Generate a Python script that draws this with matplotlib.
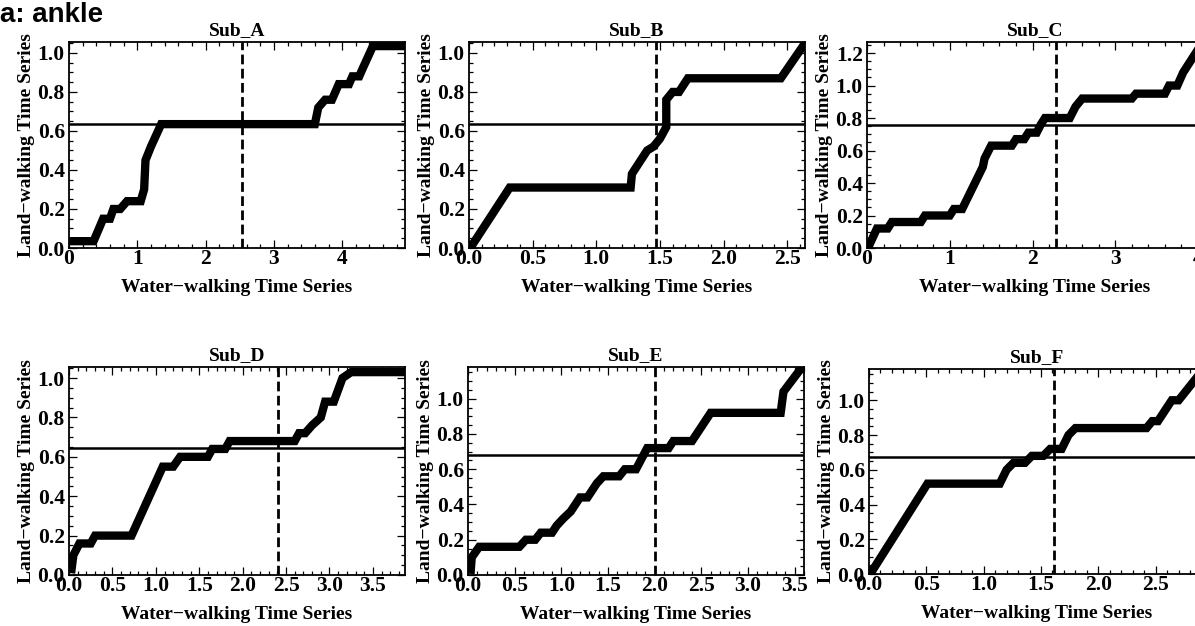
import numpy as np
import matplotlib
matplotlib.use("Agg")
import matplotlib.pyplot as plt
from matplotlib.ticker import MultipleLocator
from matplotlib.font_manager import FontProperties

# ----------------------------
# Warping paths (x = water, y = land)
# ----------------------------

names = ["Sub_A", "Sub_B", "Sub_C", "Sub_D", "Sub_E", "Sub_F"]

a_x = [0.0, 0.36, 0.5, 0.6, 0.65, 0.75, 0.85, 1.05, 1.1, 1.12, 1.2, 1.35, 3.6, 3.65, 3.75, 3.85, 3.9, 3.95, 4.1, 4.15, 4.25, 4.3, 4.45, 4.92]
a_y = [0.035, 0.035, 0.15, 0.15, 0.2, 0.2, 0.24, 0.24, 0.3, 0.45, 0.52, 0.635, 0.635, 0.72, 0.76, 0.76, 0.8, 0.84, 0.84, 0.88, 0.88, 0.92, 1.035, 1.035]

b_x = [0.03, 0.32, 1.27, 1.28, 1.32, 1.4, 1.45, 1.5, 1.55, 1.55, 1.6, 1.65, 1.72, 2.45, 2.64]
b_y = [0.02, 0.31, 0.31, 0.38, 0.42, 0.5, 0.52, 0.56, 0.62, 0.76, 0.8, 0.8, 0.87, 0.87, 1.05]

c_x = [0.03, 0.12, 0.25, 0.3, 0.65, 0.7, 1.0, 1.05, 1.15, 1.4, 1.42, 1.5, 1.75, 1.8, 1.9, 1.95, 2.05, 2.1, 2.15, 2.45, 2.52, 2.6, 3.2, 3.25, 3.6, 3.65, 3.75, 3.82, 4.06]
c_y = [0.02, 0.12, 0.12, 0.16, 0.16, 0.2, 0.2, 0.24, 0.24, 0.5, 0.55, 0.63, 0.63, 0.67, 0.67, 0.71, 0.71, 0.76, 0.8, 0.8, 0.87, 0.92, 0.92, 0.95, 0.95, 1.0, 1.0, 1.08, 1.27]

d_x = [0.03, 0.05, 0.12, 0.25, 0.3, 0.72, 1.08, 1.2, 1.28, 1.6, 1.65, 1.8, 1.85, 2.6, 2.65, 2.72, 2.8, 2.9, 2.95, 3.05, 3.15, 3.25, 3.87]
d_y = [0.03, 0.1, 0.16, 0.16, 0.2, 0.2, 0.55, 0.55, 0.6, 0.6, 0.64, 0.64, 0.68, 0.68, 0.72, 0.72, 0.76, 0.8, 0.88, 0.88, 1.0, 1.03, 1.03]

e_x = [0.03, 0.04, 0.12, 0.55, 0.62, 0.72, 0.78, 0.9, 0.95, 1.02, 1.1, 1.2, 1.28, 1.38, 1.45, 1.62, 1.68, 1.8, 1.92, 2.15, 2.2, 2.4, 2.45, 2.6, 3.35, 3.38, 3.58]
e_y = [0.03, 0.1, 0.16, 0.16, 0.2, 0.2, 0.24, 0.24, 0.28, 0.32, 0.36, 0.44, 0.44, 0.52, 0.56, 0.56, 0.6, 0.6, 0.72, 0.72, 0.76, 0.76, 0.8, 0.92, 0.92, 1.04, 1.18]

f_x = [0.03, 0.51, 1.14, 1.2, 1.26, 1.36, 1.42, 1.52, 1.58, 1.68, 1.74, 1.8, 2.42, 2.47, 2.52, 2.64, 2.7, 2.93]
f_y = [0.02, 0.52, 0.52, 0.6, 0.64, 0.64, 0.68, 0.68, 0.72, 0.72, 0.8, 0.84, 0.84, 0.88, 0.88, 1.0, 1.0, 1.19]

paths_x = [a_x, b_x, c_x, d_x, e_x, f_x]
paths_y = [a_y, b_y, c_y, d_y, e_y, f_y]

hline_y = [0.636, 0.636, 0.76, 0.644, 0.68, 0.675]
vline_x = [2.54, 1.47, 2.28, 2.41, 2.0, 1.61]

x_max = [4.92, 2.64, 4.06, 3.87, 3.6, 2.93]
y_max = [1.056, 1.056, 1.268, 1.056, 1.18, 1.18]
x_major = [1, 0.5, 1, 0.5, 0.5, 0.5]

# ----------------------------
# Plot
# ----------------------------

W, H = 1195, 626
fig = plt.figure(figsize=(W / 100, H / 100), dpi=100)

# axes boxes in pixels: left, right, top, bottom
boxes = [
    (69, 405, 42, 248), (469, 805, 42, 248), (867, 1203, 42, 248),
    (69, 405, 367, 575), (468, 804, 367, 575), (869, 1205, 369, 574),
]

serif = dict(family="Liberation Serif", weight="bold", size=14)
tick_font = FontProperties(family="Liberation Serif", weight="bold", size=15.5)

for i, name in enumerate(names):
    l, r, t, b = boxes[i]
    ax = fig.add_axes([l / W, 1 - b / H, (r - l) / W, (b - t) / H])
    ax.plot(paths_x[i], paths_y[i], color="black", lw=6, solid_joinstyle="miter")
    ax.axhline(hline_y[i], color="black", lw=1.8)
    ax.axvline(vline_x[i], color="black", lw=2, dashes=(3.5, 1.6))
    ax.set_xlim(0, x_max[i])
    ax.set_ylim(0, y_max[i])
    ax.xaxis.set_major_locator(MultipleLocator(x_major[i]))
    ax.xaxis.set_minor_locator(MultipleLocator(x_major[i] / 5))
    ax.yaxis.set_major_locator(MultipleLocator(0.2))
    ax.yaxis.set_minor_locator(MultipleLocator(0.05))
    if x_major[i] == 1:
        ax.xaxis.set_major_formatter(plt.FuncFormatter(lambda v, p: "%d" % v))
    else:
        ax.xaxis.set_major_formatter(plt.FuncFormatter(lambda v, p: "%.1f" % v))
    ax.yaxis.set_major_formatter(plt.FuncFormatter(lambda v, p: "%.1f" % v))
    ax.tick_params(which="both", direction="in", top=True, right=True, width=0.9)
    ax.tick_params(axis="x", pad=1)
    ax.tick_params(axis="y", pad=3)
    ax.tick_params(which="major", length=6)
    ax.tick_params(which="minor", length=3)
    for s in ax.spines.values():
        s.set_linewidth(1.3)
    for lab in ax.get_xticklabels() + ax.get_yticklabels():
        lab.set_fontproperties(tick_font)
    ax.set_title(name, pad=5, **serif)
    ax.set_xlabel("Water\u2212walking Time Series", labelpad=7, **serif)
    ax.set_ylabel("Land\u2212walking Time Series", labelpad=2, **serif)

fig.text(0.0, 0.997, "a: ankle", ha="left", va="top",
         family="Liberation Sans", weight="bold", size=20)

fig.savefig("out.png", dpi=100)
